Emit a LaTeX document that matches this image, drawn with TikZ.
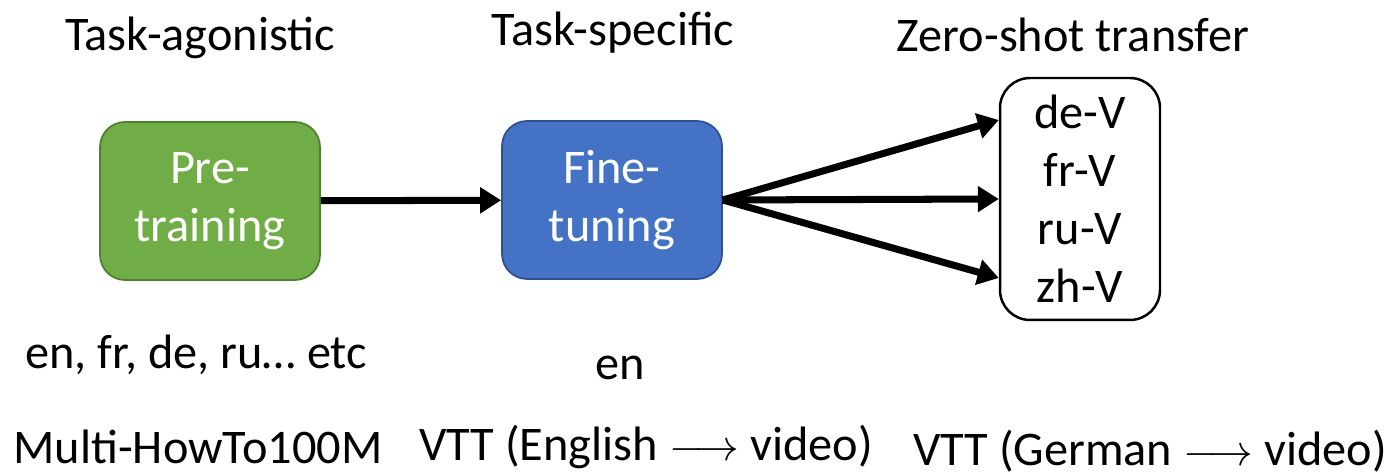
\documentclass[tikz,border=0pt]{standalone}
\usepackage{fontspec}
\setmainfont{Carlito}
\usetikzlibrary{arrows.meta,positioning}
\definecolor{pregreen}{RGB}{112,173,71}
\definecolor{pregreendark}{RGB}{80,126,50}
\definecolor{ftblue}{RGB}{68,114,196}
\definecolor{ftbluedark}{RGB}{47,82,143}

\begin{document}
\begin{tikzpicture}[
    x=0.02cm, y=-0.02cm,
    font=\fontsize{27.5}{33}\selectfont,
    model/.style={rectangle, rounded corners=0.5cm, line width=1pt, text=white, align=center, minimum width=4.4cm, minimum height=3.16cm},
    langs/.style={rectangle, rounded corners=0.6cm, draw=black, line width=1.4pt, fill=white, align=center, minimum width=3.2cm, minimum height=4.84cm},
    flow/.style={-{Triangle[length=0.42cm,width=0.5cm]}, line width=4pt}
]
    \useasboundingbox (0,0) rectangle (1386,475);

    % Stages
    \node[model, fill=pregreen, draw=pregreendark] (pt) at (210,201) {Pre-\\training};
    \node[model, fill=ftblue, draw=ftbluedark] (ft) at (612,200) {Fine-\\tuning};
    \node[langs] (zs) at (1080,199) {de-V\\fr-V\\ru-V\\zh-V};

    % Headings
    \node (hpt) at (200,38) {Task-agonistic};
    \node (hft) at (613,33) {Task-specific};
    \node (hzs) at (1073,35) {Zero-shot transfer};

    % Languages and data
    \node (lpt) at (196,355) {en, fr, de, ru… etc};
    \node (lft) at (620,368) {en};
    \node (dpt) at (198,447) {Multi-HowTo100M};
    \node (dft) at (646,447) {VTT (English $\longrightarrow$ video)};
    \node (dzs) at (1150,451) {VTT (German $\longrightarrow$ video)};

    \draw[flow] (pt) -- (ft);
    \draw[flow] (ft.east) -- ([yshift=1.58cm]zs.west);
    \draw[flow] (ft.east) -- (zs.west);
    \draw[flow] (ft.east) -- ([yshift=-1.58cm]zs.west);
\end{tikzpicture}
\end{document}
